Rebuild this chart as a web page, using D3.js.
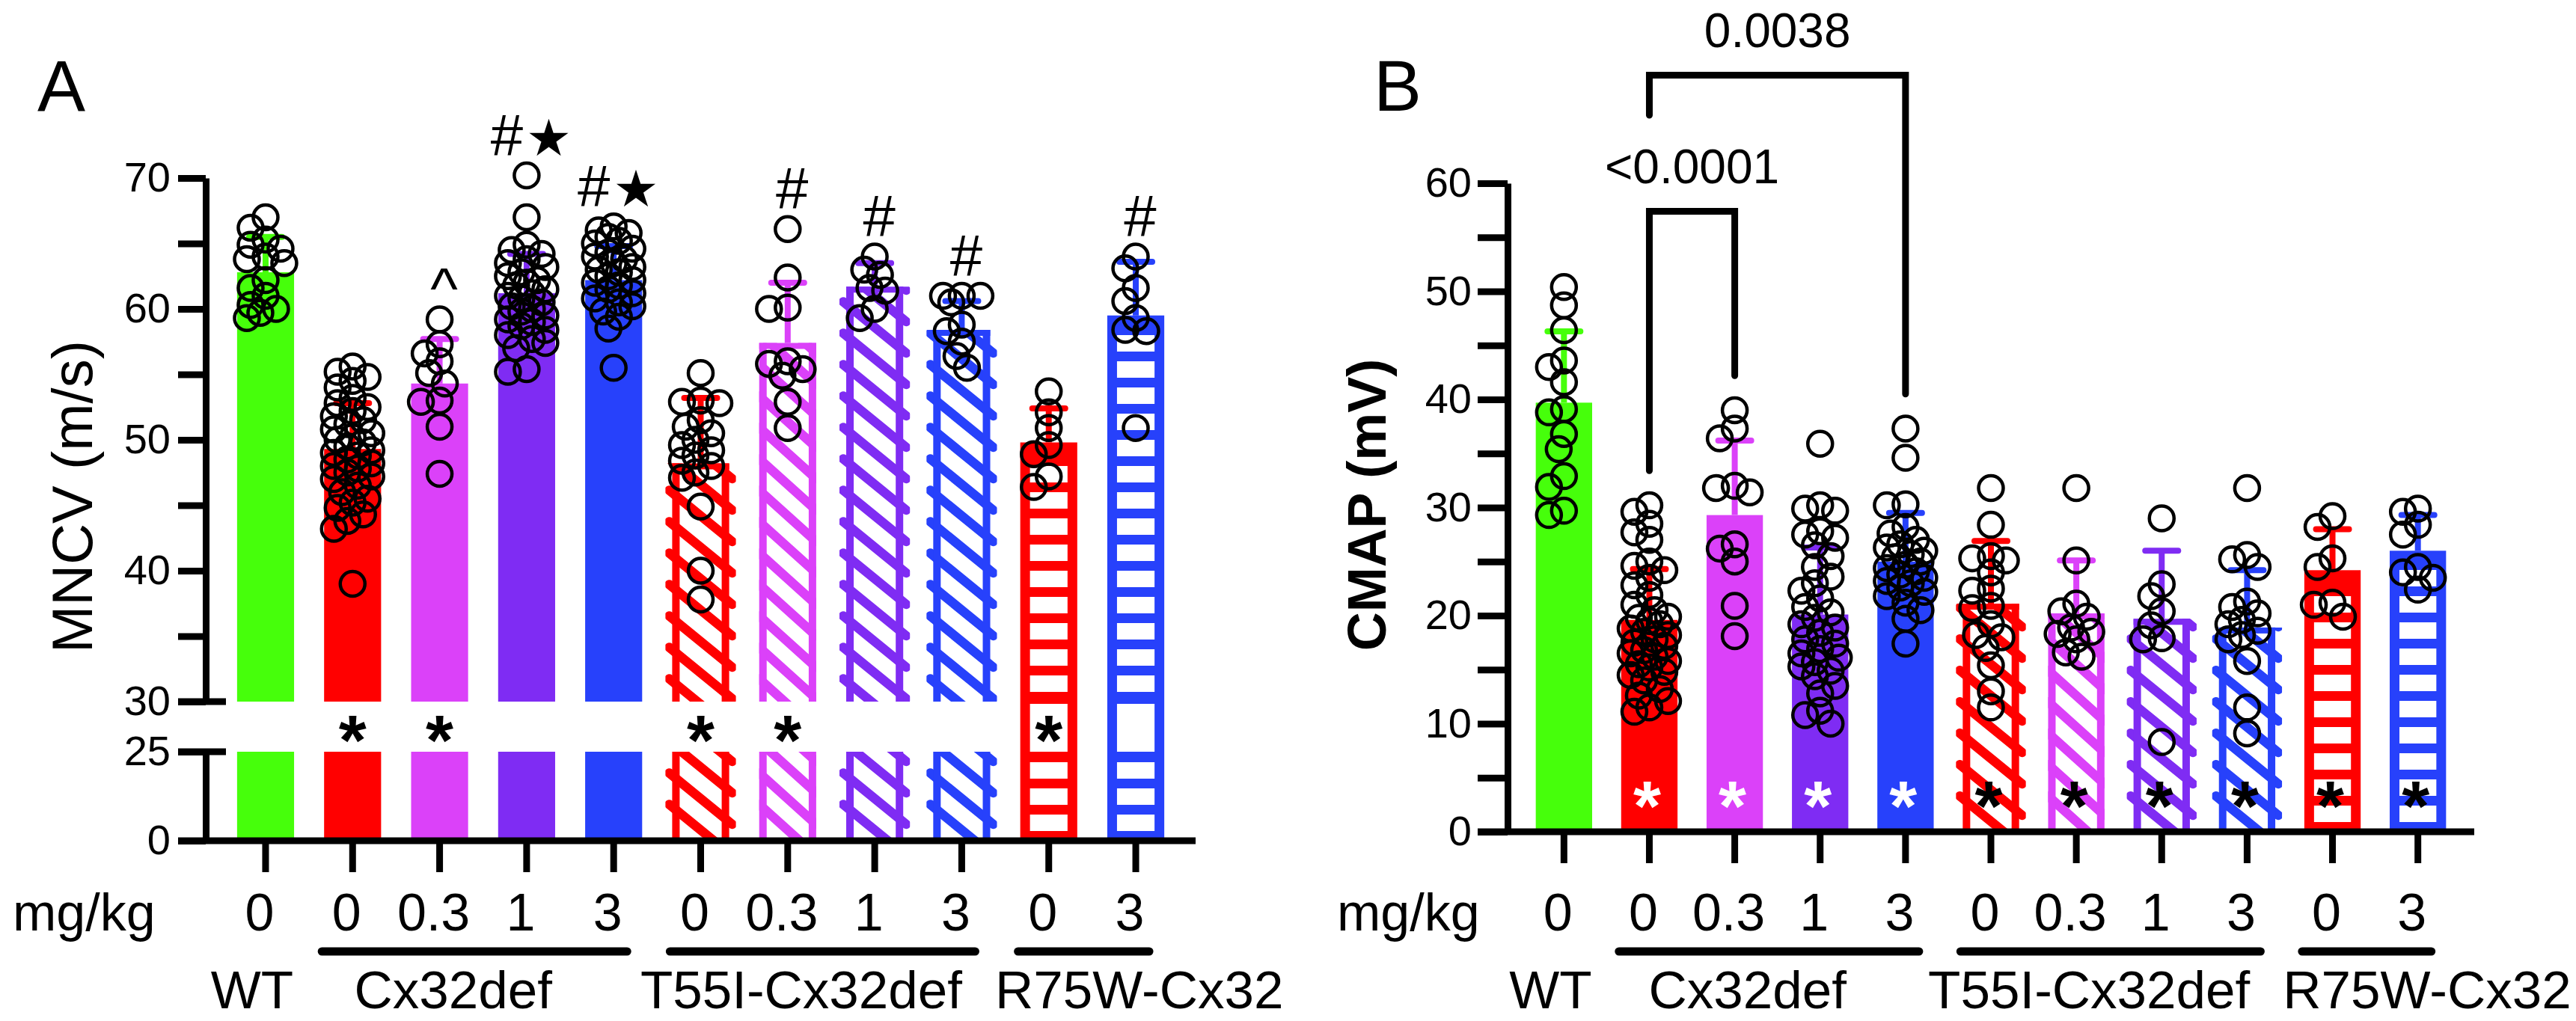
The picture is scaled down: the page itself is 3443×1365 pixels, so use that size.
<!DOCTYPE html>
<html>
<head>
<meta charset="utf-8">
<script src="https://cdn.jsdelivr.net/npm/d3@7/dist/d3.min.js"></script>
<style>
html,body{margin:0;padding:0;background:#fff;}
svg{display:block;}
</style>
</head>
<body>
<svg id="chart" width="3443" height="1365"></svg>
<script>
// ================= DATA =================
const categories = ["WT 0","Cx32def 0","Cx32def 0.3","Cx32def 1","Cx32def 3",
  "T55I-Cx32def 0","T55I-Cx32def 0.3","T55I-Cx32def 1","T55I-Cx32def 3","R75W-Cx32 0","R75W-Cx32 3"];
const doseLabels = ["0","0","0.3","1","3","0","0.3","1","3","0","3"];
const groupNames = ["WT","Cx32def","T55I-Cx32def","R75W-Cx32"];
const groupOfBar = [0,1,1,1,1,2,2,2,2,3,3];

// Panel A : MNCV (m/s)
const mncvMean = [62.8, 49.3, 54.3, 61.2, 62.2, 48.2, 57.4, 61.7, 58.4, 49.8, 59.5];
const mncvSD   = [2.7, 3.5, 3.4, 3.0, 2.6, 5.0, 4.6, 1.8, 2.2, 2.6, 4.1];
const mncvPoints = [
  [67.0,66.2,65.3,64.9,64.6,64.0,63.8,63.5,62.2,61.6,61.0,60.3,60.0,59.7,59.3],
  [55.6,55.2,54.8,54.5,54.0,53.2,52.8,52.5,52.2,51.8,51.5,51.2,50.8,50.5,50.2,50.0,49.8,49.5,49.2,49.0,48.8,48.5,48.2,48.0,47.8,47.5,47.2,47.0,46.5,46.0,45.5,45.2,44.8,44.3,43.8,43.2,39.0],
  [59.2,57.3,56.6,56.0,55.1,54.3,53.0,52.9,51.0,47.4],
  [70.2,67.0,64.9,64.5,64.2,63.8,63.5,63.2,62.8,62.5,62.2,62.0,61.8,61.5,61.2,61.0,60.8,60.5,60.2,60.0,59.8,59.5,59.2,59.0,58.7,58.4,58.0,57.7,57.4,57.0,55.4,55.2],
  [66.3,66.0,65.8,65.5,65.2,65.0,64.6,64.3,64.0,63.8,63.5,63.2,63.0,62.8,62.5,62.2,62.0,61.8,61.5,61.2,60.8,60.5,60.2,59.8,59.4,58.5,55.5],
  [55.1,53.0,52.9,52.8,51.5,51.0,50.5,50.0,49.6,49.2,48.8,48.4,48.0,47.5,47.1,44.9,40.0,37.8],
  [66.1,62.4,60.1,60.0,56.0,55.8,55.4,54.9,52.9,50.9],
  [64.0,63.0,62.6,61.6,61.4,60.0,59.3],
  [61.0,61.0,61.0,60.5,58.8,58.3,57.5,56.4,55.5],
  [53.7,52.1,50.9,49.6,48.9,47.2,46.4],
  [64.0,63.1,61.6,60.6,59.3,58.4,58.3,50.9]
];
const mncvMarks = ["","","^","#★","#★","","#","#","#","","#"];
const mncvAsterisk = [0,1,1,0,0,1,1,0,0,1,0];
const mncvTicksUpper = [30,35,40,45,50,55,60,65,70];
const mncvTicksLower = [0,25];

// Panel B : CMAP (mV)
const cmapMean = [39.7, 19.6, 29.3, 20.1, 25.0, 21.1, 20.2, 19.7, 18.9, 24.2, 26.0];
const cmapSD   = [6.6, 4.7, 6.9, 6.2, 4.5, 5.8, 4.9, 6.3, 5.3, 3.8, 3.3];
const cmapPoints = [
  [50.4,48.7,46.4,43.6,43.0,41.6,39.1,38.8,36.8,35.4,32.9,31.9,29.7,29.3],
  [30.2,29.6,28.5,27.7,27.0,25.0,24.6,24.2,23.5,22.8,21.9,21.0,20.5,19.9,19.8,19.5,19.2,18.8,18.5,18.2,17.8,17.5,17.2,16.8,16.5,16.2,15.8,15.5,15.2,14.8,14.5,14.0,13.2,12.6,12.1,11.5,11.1],
  [39.0,37.3,36.4,32.0,31.8,31.4,26.6,26.2,25.0,20.9,18.1],
  [35.9,30.2,29.9,29.7,27.8,27.5,27.2,26.5,25.5,24.5,23.6,23.0,22.3,21.6,20.8,20.3,19.8,19.2,18.9,18.4,17.8,17.4,16.9,16.5,16.1,15.7,15.3,14.9,14.4,13.5,12.8,11.2,10.8,10.0],
  [37.3,34.6,30.3,30.2,28.2,27.6,27.0,26.6,26.3,26.0,25.7,25.4,25.0,24.7,24.4,24.1,23.8,23.5,23.2,23.0,22.6,22.2,21.8,21.2,20.5,19.7,17.4],
  [31.8,28.4,25.5,25.3,25.1,24.0,22.5,22.3,20.9,20.7,19.2,18.2,18.0,17.0,15.4,13.0,11.5],
  [31.8,25.1,21.1,20.4,19.9,18.9,18.5,18.3,17.8,16.6,16.2],
  [29.0,22.9,21.8,20.4,19.1,17.9,17.8,8.3],
  [31.8,25.6,25.2,24.5,21.3,20.8,20.2,19.6,19.2,18.6,18.2,17.8,15.8,11.5,9.1],
  [29.2,28.2,25.3,24.5,21.2,21.0,19.9],
  [29.9,29.6,28.4,27.5,24.5,24.0,23.5,22.4]
];
const cmapAsterisk = [0,1,1,1,1,1,1,1,1,1,1];
const cmapTicks = [0,5,10,15,20,25,30,35,40,45,50,55,60];
// comparisons: bars a & b, bracket top value, leg-end values, p label
const cmapCompA   = [1, 1];
const cmapCompB   = [2, 4];
const cmapCompTop = [57.4, 70.0];
const cmapCompEndA = [33.4, 66.3];
const cmapCompEndB = [42.2, 40.5];
const cmapCompP   = ["<0.0001", "0.0038"];

// ================= STYLE =================
const barColors = ["#46ff0b","#ff0000","#db41f9","#7f2cf3","#2741fb","#ff0000","#db41f9","#7f2cf3","#2741fb","#ff0000","#2741fb"];
const barFill   = ["solid","solid","solid","solid","solid","diag","diag","diag","diag","horiz","horiz"];
const hatchCaps = [0,0,0,0,0,1,0,1,1,0,0];
const FONT = "'Liberation Sans', Arial, Helvetica, sans-serif";

// ================= DRAW =================
const svg = d3.select("#chart").style("font-family", FONT);
const defs = svg.append("defs");
let clipCount = 0;

function swarmOffsets(vals, yf, r) {
  const order = vals.map((v,i)=>i).sort((a,b)=>vals[b]-vals[a]);
  const offs = [0,-7,7,-14,14,-20,20,-25,25];
  const placed = [], res = new Array(vals.length);
  for (const i of order) {
    const y = yf(vals[i]);
    let best = 0, bestD = -1;
    for (const o of offs) {
      let d = Infinity;
      for (const p of placed) { const dd = Math.hypot(p.x-o, p.y-y); if (dd < d) d = dd; }
      if (d >= 2*r*0.62) { best = o; bestD = d; break; }
      if (d > bestD) { bestD = d; best = o; }
    }
    placed.push({x:best, y}); res[i] = best;
  }
  return res;
}

// segs: list of [yTop, yBottom] from top to bottom
function drawBar(g, x0, bw, segs, color, kind, caps) {
  const top = segs[0][0], bot = segs[segs.length-1][1];
  if (kind === "solid") {
    segs.forEach(s => g.append("rect").attr("x",x0).attr("y",s[0]).attr("width",bw).attr("height",s[1]-s[0]).attr("fill",color));
    return;
  }
  if (kind === "horiz") {
    const b = 13, white = 22, period = 35;
    g.append("rect").attr("x",x0).attr("y",top).attr("width",bw).attr("height",bot-top).attr("fill",color);
    segs.forEach(s => {
      for (let yb = s[1] - 13; yb - white >= s[0] + 4; yb -= period) {
        g.append("rect").attr("x",x0+b).attr("y",yb-white).attr("width",bw-2*b).attr("height",white).attr("fill","#fff");
      }
    });
    for (let i = 0; i < segs.length-1; i++) {
      g.append("rect").attr("x",x0+b).attr("y",segs[i][1]+3).attr("width",bw-2*b).attr("height",segs[i+1][0]-segs[i][1]-3).attr("fill","#fff");
    }
    return;
  }
  // diagonal hatch
  const id = "hc" + (clipCount++);
  const cp = defs.append("clipPath").attr("id", id);
  segs.forEach(s => cp.append("rect").attr("x",x0-(caps?9:0)).attr("y",s[0]).attr("width",bw+(caps?18:0)).attr("height",s[1]-s[0]));
  segs.forEach(s => g.append("rect").attr("x",x0).attr("y",s[0]).attr("width",bw).attr("height",s[1]-s[0]).attr("fill","#fff"));
  const lg = g.append("g").attr("clip-path", `url(#${id})`);
  const period = 42, drop = bw*0.9, ext = caps ? 4 : 0;
  for (let ys = bot + 20; ys > top - drop - 20; ys -= period) {
    lg.append("line").attr("x1",x0-ext).attr("y1",ys-drop).attr("x2",x0+bw+ext).attr("y2",ys)
      .attr("stroke",color).attr("stroke-width",12.5).attr("stroke-linecap","round");
  }
  segs.forEach(s => {
    g.append("rect").attr("x",x0).attr("y",s[0]).attr("width",10).attr("height",s[1]-s[0]).attr("fill",color);
    g.append("rect").attr("x",x0+bw-10).attr("y",s[0]).attr("width",10).attr("height",s[1]-s[0]).attr("fill",color);
  });
  g.append("rect").attr("x",x0).attr("y",top).attr("width",bw).attr("height",8).attr("fill",color);
}

function styleAxis(g, fontSize) {
  g.select(".domain").attr("stroke","#000").attr("stroke-width",9);
  g.selectAll(".tick line").attr("stroke","#000").attr("stroke-width",9);
  g.selectAll(".tick text").attr("fill","#000").attr("font-size",fontSize).attr("font-family",FONT);
  g.selectAll(".tick text").filter(function(){ return !this.textContent; }).remove();
  g.attr("font-size",null).attr("font-family",null);
}

function drawPanel(p) {
  const g = svg.append("g");
  const x = p.x, y = p.y, bw = x.bandwidth();
  const axisX = x.range()[0];
  // bars
  p.means.forEach((m,i) => {
    drawBar(g, x(i), bw, p.segs(m), barColors[i], barFill[i], hatchCaps[i]);
  });
  // error bars
  p.means.forEach((m,i) => {
    const cx = x(i) + bw/2;
    g.append("line").attr("x1",cx).attr("x2",cx).attr("y1",y(m)).attr("y2",y(m+p.sds[i]))
      .attr("stroke",barColors[i]).attr("stroke-width",8);
    g.append("line").attr("x1",cx-22).attr("x2",cx+22).attr("y1",y(m+p.sds[i])).attr("y2",y(m+p.sds[i]))
      .attr("stroke",barColors[i]).attr("stroke-width",8).attr("stroke-linecap","round");
  });
  // points
  p.points.forEach((vals,i) => {
    const cx = x(i) + bw/2;
    const offs = swarmOffsets(vals, y, 16.5);
    g.selectAll(null).data(vals).enter().append("circle")
      .attr("cx",(d,k)=>cx+offs[k]).attr("cy",d=>y(d)).attr("r",16.5)
      .attr("fill","none").attr("stroke","#000").attr("stroke-width",4.5);
  });
  // x axis
  const base = y(0);
  const gx = g.append("g").attr("transform",`translate(0,${base})`)
    .call(d3.axisBottom(x).tickSize(42).tickFormat(""));
  gx.select(".domain").remove();
  gx.selectAll(".tick text").remove();
  gx.selectAll(".tick line").attr("stroke","#000").attr("stroke-width",9);
  g.append("line").attr("x1",axisX-p.tickLen).attr("x2",x.range()[1]).attr("y1",base).attr("y2",base)
    .attr("stroke","#000").attr("stroke-width",9);
  // dose labels
  g.append("text").attr("x",axisX-p.tickLen-p.mgOffset).attr("y",1244).attr("font-size",70).text("mg/kg");
  g.selectAll(null).data(doseLabels).enter().append("text")
    .attr("x",(d,i)=>x(i)+bw/2-8).attr("y",1244).attr("text-anchor","middle").attr("font-size",70).text(d=>d);
  // groups
  let prevEnd = -Infinity;
  groupNames.forEach((name,gi) => {
    const idx = d3.range(11).filter(i => groupOfBar[i] === gi);
    const first = idx[0], last = idx[idx.length-1];
    const gStart = x(first), gEnd = x(last) + bw;
    let cx;
    if (idx.length > 1) {
      const lx1 = gStart - 3, lx2 = x(last) + bw/2 + 18;
      g.append("line").attr("x1",lx1).attr("x2",lx2).attr("y1",1272).attr("y2",1272)
        .attr("stroke","#000").attr("stroke-width",11).attr("stroke-linecap","round");
      cx = (gStart + gEnd)/2 - 40;
    } else {
      cx = x(first) + bw/2 - 18;
    }
    const t = g.append("text").attr("y",1348).attr("font-size",71).attr("text-anchor","start").text(name);
    const w = t.node().getComputedTextLength();
    let sx = cx - w/2;
    if (sx < prevEnd + 44) sx = prevEnd + 44;
    t.attr("x", sx);
    prevEnd = sx + w;
  });
  // panel letter
  g.append("text").attr("x",p.letterX).attr("y",148).attr("font-size",96).text(p.letter);
  return g;
}

// ---------- Panel A ----------
const xA = d3.scaleBand().domain(d3.range(11)).range([275,1598]).paddingInner(0.345).paddingOuter(0.36);
const yAup = d3.scaleLinear().domain([30,70]).range([938,238]);
const yAlo = d3.scaleLinear().domain([0,25]).range([1124,1005]);
const yA = d3.scaleLinear().domain([0,25,30,70]).range([1124,1005,938,238]);
const gA = drawPanel({
  x: xA, y: yA, means: mncvMean, sds: mncvSD, points: mncvPoints,
  segs: m => [[yA(m), yA(30)], [yA(25), yA(0)]],
  tickLen: 37, mgOffset: 221, letter: "A", letterX: 50
});
// y axis A (broken)
const axA1 = gA.append("g").attr("transform","translate(275,0)")
  .call(d3.axisLeft(yAup).tickValues(mncvTicksUpper).tickSize(37).tickSizeOuter(0).tickPadding(10)
    .tickFormat(d => d % 10 === 0 ? d : ""));
styleAxis(axA1, 56);
const axA2 = gA.append("g").attr("transform","translate(275,0)")
  .call(d3.axisLeft(yAlo).tickValues(mncvTicksLower).tickSize(37).tickSizeOuter(0).tickPadding(10));
styleAxis(axA2, 56);
[30,25].forEach(v => gA.append("line").attr("x1",275-37).attr("x2",275+27).attr("y1",yA(v)).attr("y2",yA(v))
  .attr("stroke","#000").attr("stroke-width",9));
gA.append("text").attr("transform",`translate(123,${(yA(70)+yA(0))/2-17}) rotate(-90)`)
  .attr("text-anchor","middle").attr("font-size",76).text("MNCV (m/s)");
// annotations A
mncvMarks.forEach((mk,i) => {
  if (!mk) return;
  const cx = xA(i) + xA.bandwidth()/2 + 6;
  const lift = mk === "^" ? 14 : 27;
  const t = gA.append("text").attr("x",cx).attr("y",yA(d3.max(mncvPoints[i])) - lift).attr("text-anchor","middle").attr("font-size",78);
  t.append("tspan").text(mk[0]);
  if (mk.length > 1) t.append("tspan").attr("font-family","'DejaVu Sans', sans-serif").attr("font-size",68).attr("dx",4).text(mk.slice(1));
});
mncvAsterisk.forEach((a,i) => {
  if (!a) return;
  gA.append("text").attr("x",xA(i)+xA.bandwidth()/2).attr("y",(yA(30)+yA(25))/2 + 50)
    .attr("text-anchor","middle").attr("font-size",95).attr("font-weight","bold").text("*");
});

// ---------- Panel B ----------
const xB = d3.scaleBand().domain(d3.range(11)).range([2015,3307]).paddingInner(0.34).paddingOuter(0.33);
const yB = d3.scaleLinear().domain([0,60]).range([1112,245]);
const gB = drawPanel({
  x: xB, y: yB, means: cmapMean, sds: cmapSD, points: cmapPoints,
  segs: m => [[yB(m), yB(0)]],
  tickLen: 40, mgOffset: 188, letter: "B", letterX: 1836
});
const axB = gB.append("g").attr("transform","translate(2015,0)")
  .call(d3.axisLeft(yB).tickValues(cmapTicks).tickSize(40).tickSizeOuter(0).tickPadding(8)
    .tickFormat(d => d % 10 === 0 ? d : ""));
styleAxis(axB, 56);
gB.append("text").attr("transform",`translate(1852,675) rotate(-90)`)
  .attr("text-anchor","middle").attr("font-size",72).attr("font-weight","bold").text("CMAP (mV)");
cmapAsterisk.forEach((a,i) => {
  if (!a) return;
  gB.append("text").attr("x",xB(i)+xB.bandwidth()/2 - 3).attr("y",1060 + 50)
    .attr("text-anchor","middle").attr("font-size",95).attr("font-weight","bold")
    .attr("fill", barFill[i] === "solid" ? "#fff" : "#000").text("*");
});
// comparison brackets
cmapCompP.forEach((p,k) => {
  const xa = xB(cmapCompA[k]) + xB.bandwidth()/2, xb = xB(cmapCompB[k]) + xB.bandwidth()/2;
  const yt = yB(cmapCompTop[k]);
  gB.append("path").attr("d", `M${xa},${yB(cmapCompEndA[k])}V${yt}H${xb}V${yB(cmapCompEndB[k])}`)
    .attr("fill","none").attr("stroke","#000").attr("stroke-width",9).attr("stroke-linecap","round");
  gB.append("text").attr("x",(xa+xb)/2).attr("y",yt-38).attr("text-anchor","middle").attr("font-size",64).text(p);
});
</script>
</body>
</html>
